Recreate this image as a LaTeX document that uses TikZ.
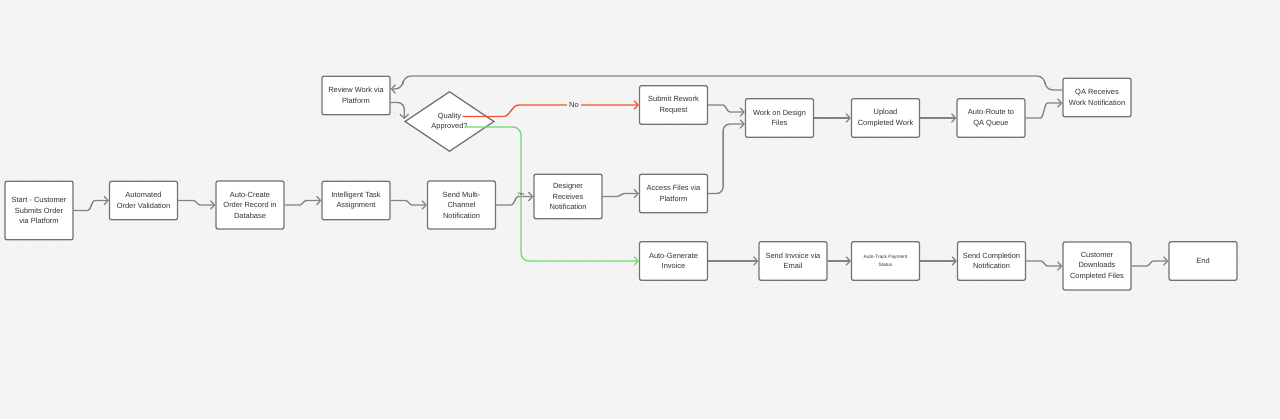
\documentclass[tikz,border=0pt]{standalone}
\usepackage{fontspec}
\setmainfont{Liberation Sans}
\usetikzlibrary{shapes.geometric,arrows.meta,calc}
\definecolor{bg}{HTML}{F4F4F4}
\definecolor{dotc}{HTML}{DCDCDC}
\definecolor{boxc}{HTML}{727272}
\definecolor{linec}{HTML}{828282}
\definecolor{txt}{HTML}{333333}
\definecolor{redc}{HTML}{F0532D}
\definecolor{greenc}{HTML}{6FDB6F}
\begin{document}
\begin{tikzpicture}[x=0.75pt,y=-0.75pt,
  box/.style={draw=boxc, fill=white, rounded corners=1.5pt, line width=0.95pt,
    minimum width=51pt, align=center, text=txt, inner sep=1pt,
    font=\fontsize{5.6}{7.9}\selectfont},
  h39/.style={minimum height=29pt},
  h48/.style={minimum height=36pt},
  h45/.style={minimum height=33.5pt},
  h59/.style={minimum height=44pt},
  tip/.style={-{Straight Barb[length=3pt,width=6.5pt,line width=0.9pt]}},
  conn/.style={draw=linec, line width=1pt, rounded corners=3.5pt, tip},
  redconn/.style={draw=redc, line width=1pt, tip},
  greenconn/.style={draw=greenc, line width=1pt, rounded corners=6pt, tip},
  s/.style={to path={let \p1=(\tikztostart), \p2=(\tikztotarget) in
    -- ({(\x1+\x2)/2-6pt},\y1) .. controls ({(\x1+\x2)/2-0.5pt},\y1) and ({(\x1+\x2)/2+0.5pt},\y2) .. ({(\x1+\x2)/2+6pt},\y2) -- (\p2)}},
  dec/.style={diamond, draw=boxc, fill=white, line width=0.95pt, inner sep=0pt,
    minimum width=67pt, minimum height=45pt, align=center, text=txt,
    font=\fontsize{5.6}{7.9}\selectfont}
]
\useasboundingbox (0,0) rectangle (1280,419);
\fill[bg] (0,0) rectangle (1280,419);
\foreach \i in {0,...,95} {
  \foreach \j in {0,...,31} {
    \fill[dotc] (\i*13.4+6,\j*13.4+6) circle (0.45pt);
  }
}

% nodes
\node[box,h59] (start) at (39,210.5) {Start - Customer\\Submits Order\\via Platform};
\node[box,h39] (val) at (143.5,200.5) {Automated\\Order Validation};
\node[box,h48] (rec) at (250,205) {Auto-Create\\Order Record in\\Database};
\node[box,h39] (task) at (356,200.5) {Intelligent Task\\Assignment};
\node[box,h48] (notif) at (461.5,205) {Send Multi-\\Channel\\Notification};
\node[box,h45] (des) at (568,196.5) {Designer\\Receives\\Notification};
\node[box,h39] (acc) at (673.5,193.5) {Access Files via\\Platform};
\node[box,h39] (inv) at (673.5,261) {Auto-Generate\\Invoice};
\node[box,h39] (rev) at (356,95.5) {Review Work via\\Platform};
\node[dec] (dia) at (449.5,121.5) {Quality\\Approved?};
\node[box,h39] (rew) at (673.5,105) {Submit Rework\\Request};
\node[box,h39] (work) at (779.5,118) {Work on Design\\Files};
\node[box,h39] (up) at (885.5,118) {Upload\\Completed Work};
\node[box,h39] (route) at (991,118) {Auto-Route to\\QA Queue};
\node[box,h39] (qa) at (1097,97.5) {QA Receives\\Work Notification};
\node[box,h39] (email) at (793,261) {Send Invoice via\\Email};
\node[box,h39,font=\fontsize{3.6}{5.6}\selectfont] (track) at (885.5,261) {Auto-Track Payment\\Status};
\node[box,h39] (comp) at (991.5,261) {Send Completion\\Notification};
\node[box,h48] (dl) at (1097,266) {Customer\\Downloads\\Completed Files};
\node[box,h39] (end) at (1203,261) {End};

% main flow
\draw[conn] (start.east) to[s] (val.west);
\draw[conn] (val.east) to[s] (rec.west);
\draw[conn] (rec.east) to[s] (task.west);
\draw[conn] (task.east) to[s] (notif.west);
\draw[conn] (notif.east) to[s] (des.west);
\draw[conn] (des.east) to[s] (acc.west);
\draw[conn, rounded corners=5pt] (acc.east) -- ++(15,0) |- ($(work.west)+(0,6)$);
\draw[conn] (rew.east) to[s] ($(work.west)+(0,-6)$);
\draw[conn] (work.east) -- (up.west);
\draw[conn] (up.east) -- (route.west);
\draw[conn] (route.east) to[s] ($(qa.west)+(0,5.5)$);

% feedback loop
\coordinate (fb1) at (1045,76);
\coordinate (fb2) at (403,76);
\draw[conn, rounded corners=6pt] ($(qa.west)+(0,-7.5)$) -| (fb1) -- (fb2) |- ($(rev.east)+(0,-6.5)$);
\draw[conn, rounded corners=5pt] ($(rev.east)+(0,7)$) -| ($(dia.west)+(0,-2.5)$);

% decision branches
\coordinate (redS) at ($(dia.center)+(13,-5)$);
\coordinate (red1) at (503,116.5);
\coordinate (red2) at (519,105);
\coordinate (greenS) at ($(dia.center)+(16,5.5)$);
\draw[redconn] (redS) -- (red1) .. controls (511,116.5) and (511,105) .. (red2) -- (rew.west);
\node[fill=bg, text=txt, inner sep=1.5pt, font=\fontsize{5.6}{7}\selectfont] (nolab) at (574,105) {No};
\draw[greenconn] (greenS) -| (521,190) |- (inv.west);
\node[font=\fontsize{3}{3}\selectfont, text=txt, inner sep=0pt] (yes) at (521,194.5) {Yes};

% invoice flow
\draw[conn] (inv.east) -- (email.west);
\draw[conn] (email.east) -- (track.west);
\draw[conn] (track.east) -- (comp.west);
\draw[conn] (comp.east) to[s] (dl.west);
\draw[conn] (dl.east) to[s] (end.west);
\end{tikzpicture}
\end{document}
